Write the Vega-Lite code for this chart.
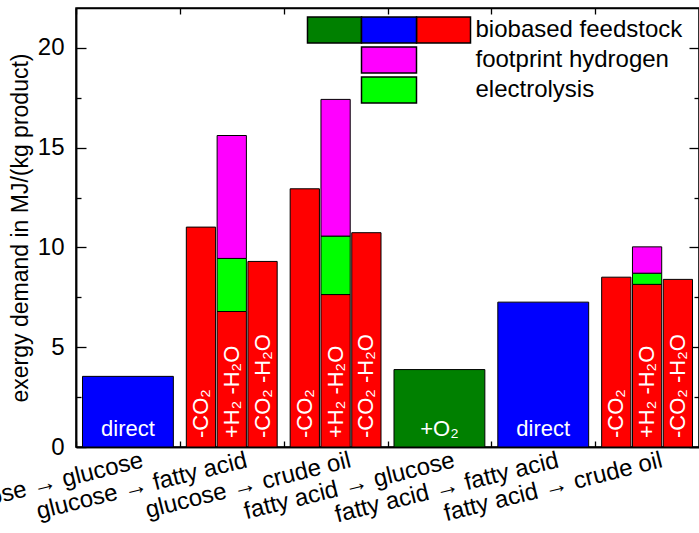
{
  "$schema": "https://vega.github.io/schema/vega-lite/v6.json",
  "width": 623,
  "height": 439,
  "autosize": {"type": "none"},
  "padding": {"left": 76, "top": 8, "right": 0, "bottom": 86},
  "config": {
    "font": "Liberation Sans",
    "view": {"stroke": "black", "strokeWidth": 1.5},
    "axis": {
      "domainColor": "black", "tickColor": "black", "labelColor": "black", "titleColor": "black",
      "grid": false, "domainWidth": 1.5, "tickWidth": 1.3,
      "labelFont": "Liberation Sans", "titleFont": "Liberation Sans"
    }
  },
  "datasets": {
    "bars": [
      {"route": "glucose → glucose", "type": "direct", "value": 3.54, "label": "direct"},
      {"route": "fatty acid → glucose", "type": "O2", "value": 3.88, "label": "+O₂"},
      {"route": "fatty acid → fatty acid", "type": "direct", "value": 7.26, "label": "direct"}
    ],
    "segments": [
      {"route": "glucose → fatty acid", "variant": "-CO₂", "part": "feedstock", "lo": 0, "hi": 11.02},
      {"route": "glucose → fatty acid", "variant": "+H₂ -H₂O", "part": "feedstock", "lo": 0, "hi": 6.79},
      {"route": "glucose → fatty acid", "variant": "+H₂ -H₂O", "part": "electrolysis", "lo": 6.79, "hi": 9.45},
      {"route": "glucose → fatty acid", "variant": "+H₂ -H₂O", "part": "hydrogen", "lo": 9.45, "hi": 15.61},
      {"route": "glucose → fatty acid", "variant": "-CO₂ -H₂O", "part": "feedstock", "lo": 0, "hi": 9.30},
      {"route": "glucose → crude oil", "variant": "-CO₂", "part": "feedstock", "lo": 0, "hi": 12.94},
      {"route": "glucose → crude oil", "variant": "+H₂ -H₂O", "part": "feedstock", "lo": 0, "hi": 7.64},
      {"route": "glucose → crude oil", "variant": "+H₂ -H₂O", "part": "electrolysis", "lo": 7.64, "hi": 10.57},
      {"route": "glucose → crude oil", "variant": "+H₂ -H₂O", "part": "hydrogen", "lo": 10.57, "hi": 17.42},
      {"route": "glucose → crude oil", "variant": "-CO₂ -H₂O", "part": "feedstock", "lo": 0, "hi": 10.74},
      {"route": "fatty acid → crude oil", "variant": "-CO₂", "part": "feedstock", "lo": 0, "hi": 8.51},
      {"route": "fatty acid → crude oil", "variant": "+H₂ -H₂O", "part": "feedstock", "lo": 0, "hi": 8.15},
      {"route": "fatty acid → crude oil", "variant": "+H₂ -H₂O", "part": "electrolysis", "lo": 8.15, "hi": 8.71},
      {"route": "fatty acid → crude oil", "variant": "+H₂ -H₂O", "part": "hydrogen", "lo": 8.71, "hi": 10.03},
      {"route": "fatty acid → crude oil", "variant": "-CO₂ -H₂O", "part": "feedstock", "lo": 0, "hi": 8.40}
    ]
  },
  "layer": [
    {
      "data": {"name": "bars"},
      "mark": {"type": "bar", "stroke": "black", "strokeWidth": 1},
      "encoding": {
        "x": {
          "field": "route", "type": "nominal",
          "sort": ["glucose → glucose", "glucose → fatty acid", "glucose → crude oil", "fatty acid → glucose", "fatty acid → fatty acid", "fatty acid → crude oil"],
          "scale": {"domain": ["glucose → glucose", "glucose → fatty acid", "glucose → crude oil", "fatty acid → glucose", "fatty acid → fatty acid", "fatty acid → crude oil"], "paddingInner": 0.125, "paddingOuter": 0.0625},
          "axis": {
            "orient": "bottom", "title": null, "ticks": false, "labelOffset": 12,
            "labelAngle": -14, "labelAlign": "right", "labelBaseline": "top",
            "labelFontSize": 24, "labelPadding": 1,
            "labelOverlap": false, "labelBound": false, "labelFlush": false, "labelLimit": 0
          }
        },
        "y": {
          "field": "value", "type": "quantitative",
          "scale": {"domain": [0, 22], "nice": false, "zero": true},
          "axis": {
            "orient": "left", "ticks": false,
            "values": [0, 5, 10, 15, 20],
            "labelFontSize": 24, "labelPadding": 12,
            "title": "exergy demand in MJ/(kg product)", "titleFontSize": 23, "titleFontWeight": "normal",
            "titlePadding": 5
          }
        },
        "color": {
          "field": "type", "type": "nominal",
          "scale": {"domain": ["feedstock", "hydrogen", "electrolysis", "direct", "O2"], "range": ["#ff0000", "#ff00ff", "#00ff00", "#0000ff", "#008000"]},
          "legend": {
            "orient": "none", "legendX": 299, "legendY": 8, "direction": "vertical",
            "values": ["O2"],
            "title": null,
            "labelExpr": "''", "labelFontSize": 1,
            "symbolSize": 676, "symbolStrokeColor": "black", "symbolStrokeWidth": 1.5, "padding": 0,
            "symbolType": "M-6.27,-1H-2.115V1H-6.27Z",
            "encode": {
              "symbols": {
                "update": {
                  "fillOpacity": {"value": 1}, "opacity": {"value": 1},
                  "stroke": {"value": "black"}, "strokeWidth": {"value": 1.5}
                }
              }
            }
          }
        }
      }
    },
    {
      "data": {"name": "segments"},
      "mark": {"type": "bar", "stroke": "black", "strokeWidth": 1},
      "encoding": {
        "x": {
          "field": "route", "type": "nominal",
          "sort": ["glucose → glucose", "glucose → fatty acid", "glucose → crude oil", "fatty acid → glucose", "fatty acid → fatty acid", "fatty acid → crude oil"],
          "axis": {"orient": "top", "title": null, "labels": false, "tickOffset": -51.9, "tickSize": -6}
        },
        "xOffset": {
          "field": "variant", "type": "nominal",
          "sort": ["-CO₂", "+H₂ -H₂O", "-CO₂ -H₂O"],
          "scale": {"paddingInner": 0.05, "paddingOuter": 0}
        },
        "y": {
          "field": "lo", "type": "quantitative",
          "axis": {
            "orient": "right", "title": null, "labels": false,
            "values": [0, 2.5, 5, 7.5, 10, 12.5, 15, 17.5, 20],
            "tickSize": {"condition": {"test": "datum.value % 5 === 0", "value": -10}, "value": -5}
          }
        },
        "y2": {"field": "hi"},
        "color": {
          "field": "part", "type": "nominal",
          "legend": {
            "orient": "none", "legendX": 299, "legendY": 8, "direction": "vertical",
            "values": ["feedstock", "hydrogen", "electrolysis"],
            "title": null,
            "labelExpr": "datum.value === 'feedstock' ? 'biobased feedstock' : datum.value === 'hydrogen' ? 'footprint hydrogen' : 'electrolysis'",
            "labelFontSize": 24, "labelFont": "Liberation Sans", "labelColor": "black", "labelLimit": 0,
            "symbolSize": 676, "symbolStrokeColor": "black", "symbolStrokeWidth": 1.5,
            "labelOffset": 72.5, "rowPadding": -3, "padding": 0,
            "symbolType": "M-6.27,0M-2.115,-1H2.115V1H-2.115ZM6.27,0",
            "encode": {
              "symbols": {
                "update": {
                  "shape": [
                    {"test": "datum.value === 'feedstock'", "value": "M-6.27,0M2.115,-1H6.27V1H2.115Z"},
                    {"value": "M-6.27,0M-2.115,-1H2.115V1H-2.115ZM6.27,0"}
                  ],
                  "fillOpacity": {"value": 1},
                  "stroke": {"value": "black"},
                  "strokeWidth": {"value": 1.5}
                }
              }
            }
          }
        }
      }
    },
    {
      "data": {"name": "bars"},
      "mark": {"type": "text", "color": "white", "fontSize": 22, "baseline": "alphabetic", "dy": -11},
      "encoding": {
        "x": {
          "field": "route", "type": "nominal",
          "sort": ["glucose → glucose", "glucose → fatty acid", "glucose → crude oil", "fatty acid → glucose", "fatty acid → fatty acid", "fatty acid → crude oil"],
          "axis": {"orient": "bottom", "title": null, "labels": false, "tickOffset": -51.9, "tickSize": -6}
        },
        "y": {
          "datum": 0, "type": "quantitative",
          "axis": {
            "orient": "left", "title": null, "labels": false,
            "values": [0, 2.5, 5, 7.5, 10, 12.5, 15, 17.5, 20],
            "tickSize": {"condition": {"test": "datum.value % 5 === 0", "value": -10}, "value": -5}
          }
        },
        "text": {"field": "label"}
      }
    },
    {
      "data": {"name": "segments"},
      "transform": [{"filter": "datum.part === 'feedstock'"}],
      "mark": {"type": "text", "color": "white", "fontSize": 22, "angle": 270, "align": "left", "baseline": "middle", "dx": 9},
      "encoding": {
        "x": {
          "field": "route", "type": "nominal",
          "sort": ["glucose → glucose", "glucose → fatty acid", "glucose → crude oil", "fatty acid → glucose", "fatty acid → fatty acid", "fatty acid → crude oil"],
          "axis": null
        },
        "xOffset": {"field": "variant", "type": "nominal", "sort": ["-CO₂", "+H₂ -H₂O", "-CO₂ -H₂O"]},
        "y": {"datum": 0, "type": "quantitative", "axis": null},
        "text": {"field": "variant"}
      }
    },
    {
      "data": {"name": "bars"},
      "transform": [{"filter": "datum.type === 'direct'"}],
      "mark": {"type": "bar", "opacity": 0},
      "encoding": {
        "x": {
          "field": "route", "type": "nominal",
          "sort": ["glucose → glucose", "glucose → fatty acid", "glucose → crude oil", "fatty acid → glucose", "fatty acid → fatty acid", "fatty acid → crude oil"],
          "axis": null
        },
        "y": {"field": "value", "type": "quantitative", "axis": null},
        "color": {
          "field": "type", "type": "nominal",
          "legend": {
            "orient": "none", "legendX": 299, "legendY": 8, "direction": "vertical",
            "values": ["direct"],
            "title": null,
            "labelExpr": "''", "labelFontSize": 1,
            "symbolSize": 676, "symbolStrokeColor": "black", "symbolStrokeWidth": 1.5, "padding": 0,
            "symbolType": "M-2.115,-1H2.115V1H-2.115Z",
            "encode": {
              "symbols": {
                "update": {
                  "fillOpacity": {"value": 1}, "opacity": {"value": 1},
                  "stroke": {"value": "black"}, "strokeWidth": {"value": 1.5}
                }
              }
            }
          }
        }
      }
    }
  ],
  "resolve": {"axis": {"x": "independent", "y": "independent"}, "legend": {"color": "independent"}}
}
